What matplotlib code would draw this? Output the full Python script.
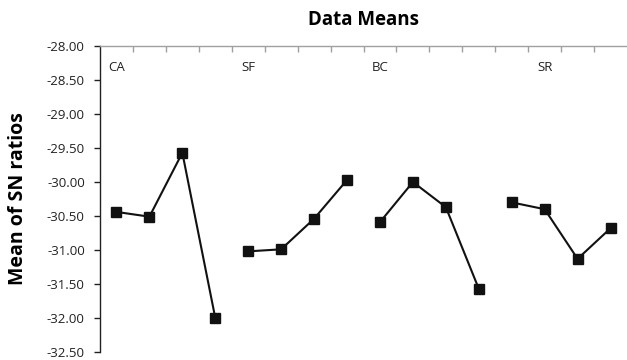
import matplotlib
matplotlib.use("Agg")
import matplotlib.pyplot as plt
import numpy as np

groups = ["CA", "SF", "BC", "SR"]
label_positions = [0, 4, 8, 13]
ca = [-30.44, -30.51, -29.57, -32.00]
sf = [-31.02, -30.99, -30.54, -29.97]
bc = [-30.59, -30.00, -30.37, -31.57]
sr = [-30.30, -30.40, -31.13, -30.68]
series = [ca, sf, bc, sr]
yticks = [-28.0, -28.5, -29.0, -29.5, -30.0, -30.5, -31.0, -31.5, -32.0, -32.5]

plt.rcParams['font.family'] = ['Open Sans', 'DejaVu Sans']

fig = plt.figure(figsize=(6.27, 3.6), dpi=100)
ax = fig.add_axes([100/627, 1-352/360, 527/627, 306/360])

for gi, vals in enumerate(series):
    xs = np.arange(4) + gi * 4
    ax.plot(xs, vals, color='#111111', lw=1.5, marker='s', markersize=6.5,
            markerfacecolor='#111111', markeredgecolor='#111111')

for name, pos in zip(groups, label_positions):
    ax.text(pos, -28.32, name, ha='center', va='center', fontsize=9.5, color='#222222')

ax.set_xlim(-0.5, 15.5)
ax.set_ylim(-32.5, -28.0)
ax.set_yticks(yticks)
ax.set_yticklabels([f"{v:.2f}" for v in yticks], fontsize=9.5, color='#222222')

ax.xaxis.tick_top()
ax.set_xticks(np.arange(0.5, 15.5, 1.0))
ax.set_xticklabels([])
ax.tick_params(axis='x', direction='in', length=4, color='#a0a0a0', width=1)
ax.tick_params(axis='y', direction='out', length=4, color='#222222', width=1, pad=7)

for s in ['right', 'bottom']:
    ax.spines[s].set_visible(False)
ax.spines['top'].set_color('#a0a0a0')
ax.spines['top'].set_linewidth(1)
ax.spines['left'].set_color('#222222')
ax.spines['left'].set_linewidth(1)

ax.set_ylabel("Mean of SN ratios", fontsize=14, fontweight='bold')
ax.yaxis.set_label_coords(-(100-28)/527, 0.5)
fig.text(363.5/627, 1-20/360, "Data Means", ha='center', va='center', fontsize=13.5, fontweight='bold')

fig.savefig("out.png", dpi=100)
